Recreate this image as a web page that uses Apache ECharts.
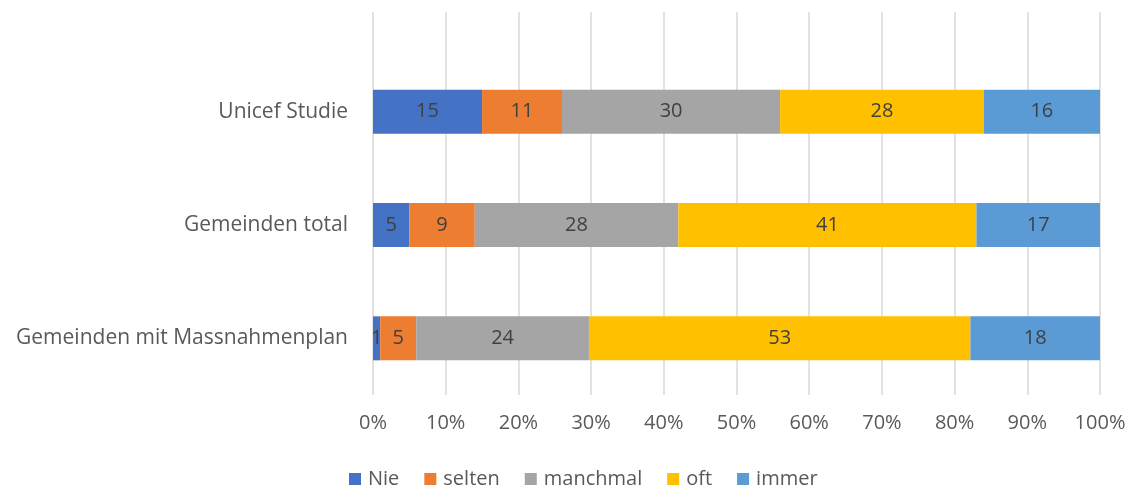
<!DOCTYPE html>
<html>
<head>
<meta charset="utf-8">
<script src="https://cdn.jsdelivr.net/npm/echarts@6/dist/echarts.min.js"></script>
<style>
    html, body { margin: 0; padding: 0; background: #fff; }
    #chart { width: 1131px; height: 487px; }
</style>
</head>
<body>
<div id="chart"></div>
<script>
'use strict';

// Kategorien (von oben nach unten)
var categories = ['Unicef Studie', 'Gemeinden total', 'Gemeinden mit Massnahmenplan'];
var seriesNames = ['Nie', 'selten', 'manchmal', 'oft', 'immer'];

// Werte je Antwort
var nie = [15, 5, 1];
var selten = [11, 9, 5];
var manchmal = [30, 28, 24];
var oft = [28, 41, 53];
var immer = [16, 17, 18];

var xTicks = ['0%', '10%', '20%', '30%', '40%', '50%', '60%', '70%', '80%', '90%', '100%'];

var colors = ['#4472C4', '#ED7D31', '#A5A5A5', '#FFC000', '#5B9BD5'];
var allValues = [nie, selten, manchmal, oft, immer];

// Summe je Kategorie (100%-gestapelt)
var totals = categories.map(function (c, i) {
    var s = 0;
    for (var k = 0; k < allValues.length; k++) {
        s += allValues[k][i];
    }
    return s;
});

var textColor = '#595959';
var font = 'Open Sans';

var series = [];
for (var k = 0; k < seriesNames.length; k++) {
    var raw = allValues[k];
    series.push({
        name: seriesNames[k],
        type: 'bar',
        stack: 'total',
        xAxisIndex: 1,
        yAxisIndex: 1,
        barWidth: 44,
        itemStyle: { color: colors[k] },
        label: {
            show: true,
            position: 'inside',
            color: '#404040',
            fontFamily: font,
            fontSize: 20,
            formatter: (function (r) {
                return function (p) { return r[p.dataIndex]; };
            })(raw)
        },
        data: raw.map(function (v, i) { return v / totals[i] * 100; })
    });
}

var myChart = echarts.init(document.getElementById('chart'));
myChart.setOption({
    backgroundColor: '#ffffff',
    animation: false,
    color: colors,
    grid: [
        // nur fuer Gitterlinien + Achsenbeschriftung
        { left: 373, right: 31, top: 12, bottom: 92 },
        // Balkenbereich
        { left: 373, right: 31, top: 55, bottom: 92 }
    ],
    legend: {
        data: seriesNames,
        left: 349,
        top: 469,
        padding: 0,
        itemWidth: 12,
        itemHeight: 12,
        itemGap: 25,
        icon: 'rect',
        textStyle: { color: textColor, fontFamily: font, fontSize: 20, padding: [0, 0, 0, 2] }
    },
    xAxis: [{
        gridIndex: 0,
        type: 'value',
        min: 0,
        max: 100,
        interval: 10,
        axisLine: { show: false },
        axisTick: { show: false },
        splitLine: { show: true, lineStyle: { color: '#d9d9d9', width: 1.5 } },
        axisLabel: {
            color: textColor,
            fontFamily: font,
            fontSize: 20,
            margin: 18,
            formatter: function (v) { return xTicks[Math.round(v / 10)]; }
        }
    }, {
        gridIndex: 1,
        type: 'value',
        min: 0,
        max: 100,
        show: false
    }],
    yAxis: [{
        gridIndex: 0,
        type: 'category',
        data: categories,
        show: false
    }, {
        gridIndex: 1,
        type: 'category',
        data: categories,
        inverse: true,
        axisLine: { show: false },
        axisTick: { show: false },
        axisLabel: {
            color: textColor,
            fontFamily: font,
            fontSize: 21,
            margin: 25
        }
    }],
    series: series
});
</script>
</body>
</html>
